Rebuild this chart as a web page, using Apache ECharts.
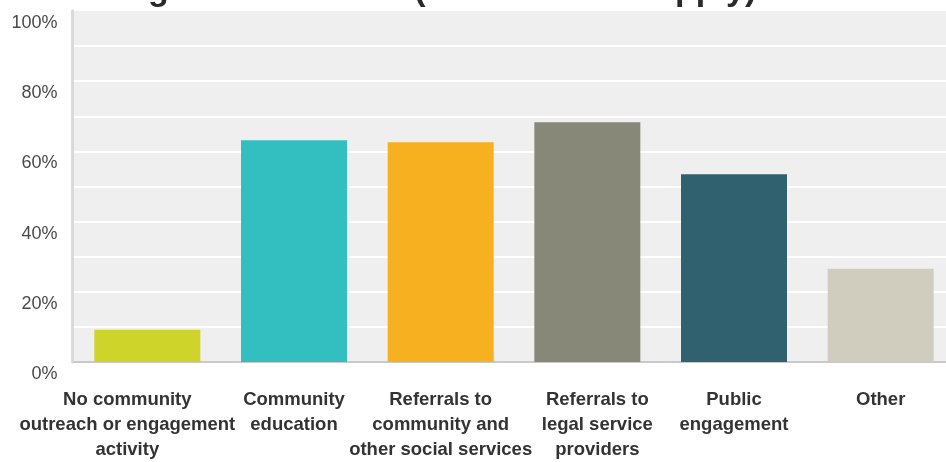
<!DOCTYPE html>
<html>
<head>
<meta charset="utf-8">
<script src="https://cdn.jsdelivr.net/npm/echarts@6/dist/echarts.min.js"></script>
<style>
  html, body { margin: 0; padding: 0; background: #ffffff; overflow: hidden; }
  #chart { width: 962px; height: 462px; }
</style>
</head>
<body>
<div id="chart"></div>
<script>
const titleText = 'organization does (Check all that apply)';
const categories = [
  'No community\noutreach or engagement\nactivity',
  'Community\neducation',
  'Referrals to\ncommunity and\nother social services',
  'Referrals to\nlegal service\nproviders',
  'Public\nengagement',
  'Other'
];
const values = [9.2, 63.2, 62.6, 68.3, 53.5, 26.6];
const barColors = ['#cfd42b', '#33bec0', '#f7b01f', '#878877', '#2f616e', '#d0cdbf'];
const labelPads = [[0, 40, 0, 0], 0, 0, [0, 0, 0, 20], 0, 0];

const chart = echarts.init(document.getElementById('chart'), null, { renderer: 'canvas' });
chart.setOption({
  animation: false,
  backgroundColor: '#ffffff',
  title: {
    text: titleText,
    left: 114,
    top: -26,
    padding: 0,
    textStyle: { fontFamily: 'Liberation Sans', fontSize: 34, fontWeight: 'bold', color: '#2a2a2a' }
  },
  grid: {
    left: 74, top: 11, width: 880, bottom: 98,
    show: true, backgroundColor: '#efefef', borderWidth: 0,
    containLabel: false
  },
  xAxis: {
    type: 'category',
    data: categories.map((c, i) => ({ value: c, textStyle: { padding: labelPads[i] } })),
    axisLine: { show: true, lineStyle: { color: '#c9c9c9', width: 2 } },
    axisTick: { show: false },
    axisLabel: {
      interval: 0, margin: 25,
      fontFamily: 'Liberation Sans', fontSize: 18.5, fontWeight: 'bold',
      color: '#333333', lineHeight: 25
    }
  },
  yAxis: {
    type: 'value', min: 0, max: 100, interval: 10,
    offset: 1.5,
    axisLine: { show: true, lineStyle: { color: '#d9d9d9', width: 3 } },
    axisTick: { show: false },
    splitLine: { show: true, showMaxLine: false, lineStyle: { color: '#ffffff', width: 2 } },
    axisLabel: {
      margin: 15, verticalAlign: 'top', padding: [3, 0, 0, 0],
      fontFamily: 'Liberation Sans', fontSize: 18, color: '#4a4a4a',
      formatter: v => (v % 20 === 0 ? v + '%' : '')
    }
  },
  series: [{
    type: 'bar',
    data: values.map((v, i) => ({ value: v, itemStyle: { color: barColors[i] } })),
    barWidth: 106
  }]
});
</script>
</body>
</html>
